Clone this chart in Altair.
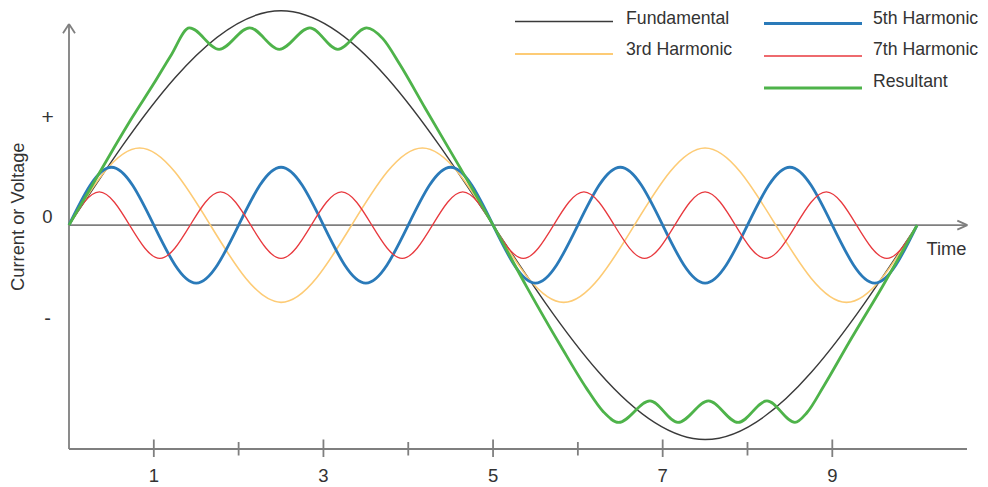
import altair as alt
import pandas as pd

# ---------------- data ----------------
fund_x = [0, 2.5, 5, 7.5, 10]
fund_y = [0, 1.0, 0, -1.0, 0]

h3_x = [0, 0.833, 1.667, 2.5, 3.333, 4.167, 5, 5.833, 6.667, 7.5, 8.333, 9.167, 10]
h3_y = [0, 0.36, 0, -0.36, 0, 0.36, 0, -0.36, 0, 0.36, 0, -0.36, 0]

h5_x = [0, 0.5, 1, 1.5, 2, 2.5, 3, 3.5, 4, 4.5, 5, 5.5, 6, 6.5, 7, 7.5, 8, 8.5, 9, 9.5, 10]
h5_y = [0, 0.27, 0, -0.27, 0, 0.27, 0, -0.27, 0, 0.27, 0, -0.27, 0, 0.27, 0, -0.27, 0, 0.27, 0, -0.27, 0]

h7_x = [0, 0.357, 0.714, 1.071, 1.429, 1.786, 2.143, 2.5, 2.857, 3.214, 3.571, 3.929, 4.286, 4.643,
        5, 5.357, 5.714, 6.071, 6.429, 6.786, 7.143, 7.5, 7.857, 8.214, 8.571, 8.929, 9.286, 9.643, 10]
h7_y = [0, 0.155, 0, -0.155, 0, 0.155, 0, -0.155, 0, 0.155, 0, -0.155, 0, 0.155,
        0, -0.155, 0, 0.155, 0, -0.155, 0, 0.155, 0, -0.155, 0, 0.155, 0, -0.155, 0]

res_x = [0, 0.25, 0.5, 0.75, 1.0, 1.2, 1.42, 1.77, 2.13, 2.48, 2.84, 3.17, 3.51, 3.7, 3.9, 4.2, 4.6,
         5.0, 5.4, 5.8, 6.1, 6.3, 6.48, 6.85, 7.18, 7.54, 7.89, 8.23, 8.56, 8.7, 8.9, 9.2, 9.6, 10.0]
res_y = [0, 0.17, 0.34, 0.505, 0.66, 0.79, 0.92, 0.82, 0.92, 0.82, 0.92, 0.82, 0.92, 0.87, 0.75, 0.545, 0.275,
         0, -0.29, -0.565, -0.76, -0.87, -0.92, -0.82, -0.92, -0.82, -0.92, -0.82, -0.92, -0.875, -0.75, -0.545, -0.28, 0]

series_names = ["Fundamental", "3rd Harmonic", "5th Harmonic", "7th Harmonic", "Resultant"]
series_colors = ["#3a3a3a", "#FDCB75", "#2A7AB9", "#E8393E", "#4EB34A"]
series_widths = [1.4, 1.6, 2.8, 1.3, 2.8]

x_tick_values = [1, 2, 3, 4, 5, 6, 7, 8, 9]
x_tick_labels = [1, 3, 5, 7, 9]
y_labels = ["+", "0", "-"]

# ---------------- layout ----------------
W, H = 899, 441
XMIN, XMAX = 0.0, 10.6
YMIN, YMAX = -1.044, 1.0126
FONT = "Liberation Sans"
AX = "#7F7F7F"
TXT = "#333333"


def px(x):
    return (x - XMIN) / (XMAX - XMIN) * W


def py(v):
    return (YMAX - v) / (YMAX - YMIN) * H


xs = alt.Scale(domain=[XMIN, XMAX], nice=False, zero=False)
ys = alt.Scale(domain=[YMIN, YMAX], nice=False, zero=False)


def curve(xv, yv, color, width, interp):
    df = pd.DataFrame({"x": xv, "y": yv})
    return alt.Chart(df).mark_line(color=color, strokeWidth=width, interpolate=interp).encode(
        x=alt.X("x:Q", scale=xs, axis=None),
        y=alt.Y("y:Q", scale=ys, axis=None),
    )


def seg(x1, y1, x2, y2, color=AX, w=1.8):
    return alt.Chart(pd.DataFrame({"a": [0]})).mark_rule(color=color, strokeWidth=w).encode(
        x=alt.value(x1), y=alt.value(y1), x2=alt.value(x2), y2=alt.value(y2)
    )


def txt(x, y, s, size=18, align="center", angle=0):
    kw = dict(align=align, baseline="middle", fontSize=size, font=FONT, color=TXT)
    if angle:
        kw["angle"] = angle
    return alt.Chart(pd.DataFrame({"t": [s]})).mark_text(**kw).encode(
        x=alt.value(x), y=alt.value(y), text="t:N"
    )


layers = []

# axes
layers.append(seg(0, py(YMIN), 0, 16))                 # y axis
layers.append(seg(-6, 25.3, 0, 16))                    # y arrow
layers.append(seg(6, 25.3, 0, 16))
layers.append(seg(0, py(0), 898.3, py(0)))             # zero line
layers.append(seg(888.3, py(0) - 4.5, 898.3, py(0)))   # x arrow
layers.append(seg(888.3, py(0) + 4.5, 898.3, py(0)))
layers.append(seg(0, py(YMIN), 898, py(YMIN)))         # bottom line
for t in x_tick_values:
    if t in x_tick_labels:
        layers.append(seg(px(t), py(YMIN) - 9.5, px(t), py(YMIN) + 8))
        layers.append(txt(px(t), 467.5, str(t), size=18.5))
    else:
        layers.append(seg(px(t), py(YMIN) - 7, px(t), py(YMIN) + 6.5))

# y labels
for lab, yy, sz in zip(y_labels, [110, 208.7, 311], [21, 18.5, 20]):
    layers.append(txt(-21.5, yy, lab, size=sz))
layers.append(txt(-50, 208.7, "Current or Voltage", size=18.3, angle=270))
layers.append(txt(877.5, 242, "Time", size=18.3))

# curves
data = [(fund_x, fund_y), (h3_x, h3_y), (h5_x, h5_y), (h7_x, h7_y), (res_x, res_y)]
for i in range(5):
    xv, yv = data[i]
    interp = "monotone" if series_names[i] == "Resultant" else "natural"
    layers.append(curve(xv, yv, series_colors[i], series_widths[i], interp))

# legend (manual, two columns)
leg_pos = [(446, 13.5, 10.5), (446, 46, 42), (695, 15.5, 10.5), (695, 48, 42), (695, 80, 74)]
for i, (lx, ly, ty) in enumerate(leg_pos):
    tx = lx + 111 if lx < 600 else lx + 109
    layers.append(seg(lx, ly, lx + 98, ly, color=series_colors[i], w=series_widths[i] + 0.3))
    layers.append(txt(tx, ty, series_names[i], size=17.7, align="left"))

chart = alt.layer(*layers).properties(
    width=W, height=H,
    padding={"left": 61, "top": 0, "right": 12, "bottom": 40},
    autosize=alt.AutoSizeParams(type="none"),
    background="white",
).configure_view(stroke=None)

chart.save("out.html", embed_options={"renderer": "svg", "actions": False})
